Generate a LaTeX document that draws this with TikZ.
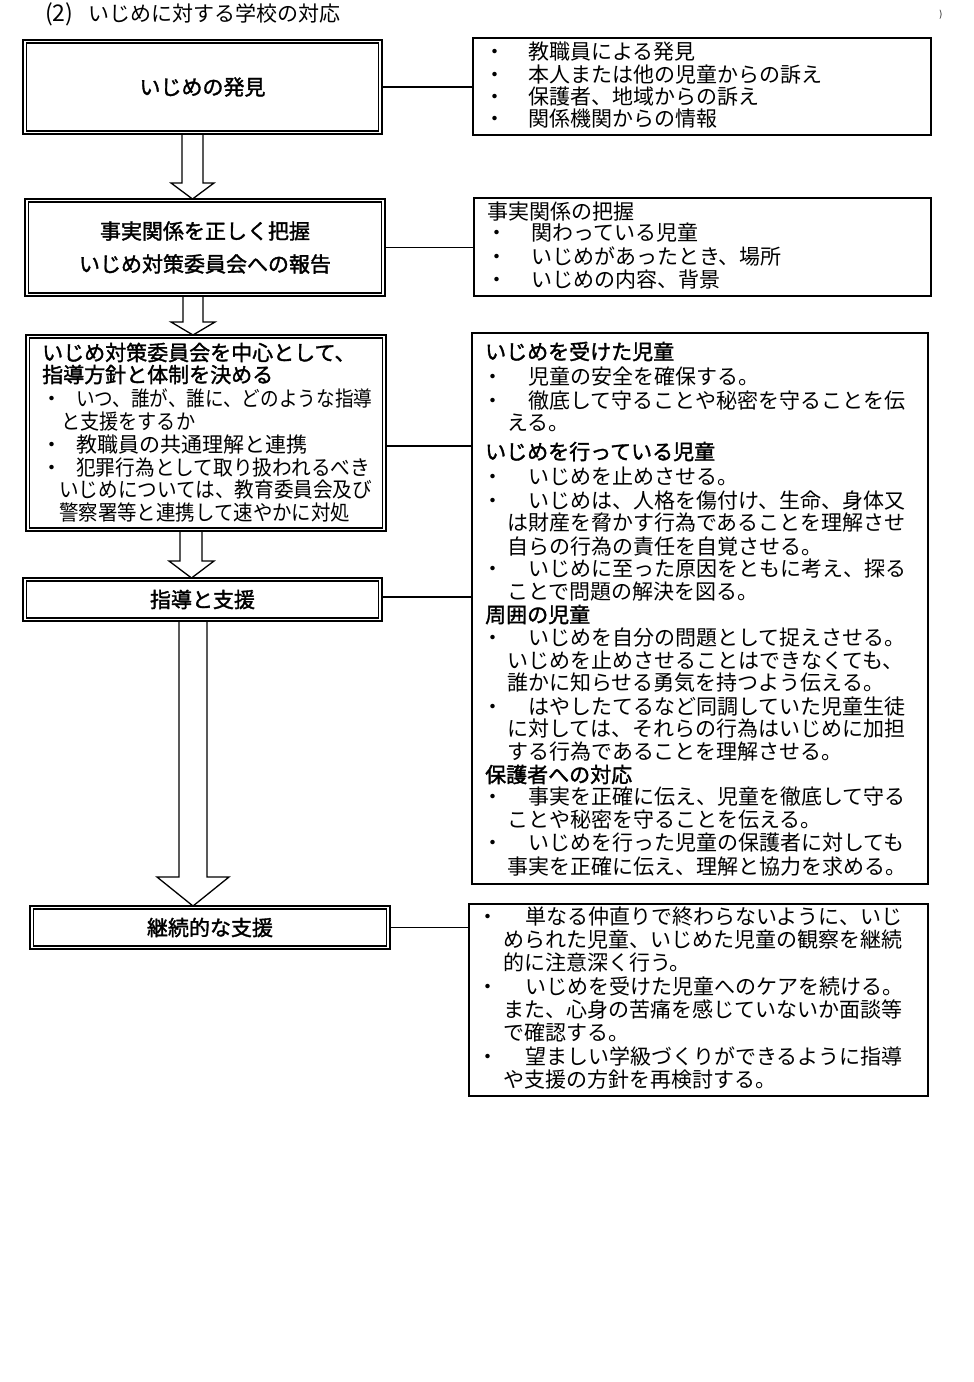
\documentclass[tikz,border=0pt]{standalone}
\usepackage{fontspec}
\setmainfont{Noto Sans CJK JP}
\newfontfamily\hfont{Noto Sans CJK JP}[FakeBold=1.6]
\usepackage{graphicx}
\usetikzlibrary{calc}
\pgfdeclarelayer{bg}
\pgfsetlayers{bg,main}
\newcommand\fs{\fontsize{21}{21}\selectfont}
\newcommand\Tln[4]{\node[txt] (#1) at (#2,{#3+7.5}) {#4};}
\newcommand\Tlb[4]{\node[txt,font=\fs\hfont] (#1) at (#2,{#3+7.5}) {#4};}
\newcommand\Tlw[5]{\node[txt] (#1) at (#2,{#3+7.5}) {\resizebox{#4pt}{\height}{#5}};}
\newcommand\Bli[5]{\node[txt,anchor=base] (#1b) at (#2,{#4+7.5}) {・};\node[txt] (#1) at (#3,{#4+7.5}) {#5};}
\newcommand\Bliw[6]{\node[txt,anchor=base] (#1b) at (#2,{#4+7.5}) {・};\node[txt] (#1) at (#3,{#4+7.5}) {\resizebox{#5pt}{\height}{#6}};}
\tikzset{
 txt/.style={anchor=base west, inner sep=0pt, font=\fs},
 dbox/.style={draw, line width=2pt, outer sep=0pt, inner sep=0pt, font=\fs\hfont, align=center},
 iline/.style={line width=1.2pt},
 rbox/.style={draw, line width=1.3pt, outer sep=0pt, inner sep=0pt},
 conn/.style={line width=1.2pt},
 blockarr/.style={draw, fill=white, line width=1.3pt, line join=miter},
}
\begin{document}
\begin{tikzpicture}[x=1pt,y=-1pt]
\useasboundingbox (0,0) rectangle (974,1382);

% title
\node[txt, font=\fontsize{23}{23}\selectfont] (t0) at (45,21.5) {(2)};
\Tln{t1}{88}{14}{いじめに対する学校の対応}
\node[inner sep=0pt, font=\fontsize{9}{9}\selectfont] (stray) at (941,15) {)};

% left double boxes
\node[dbox, minimum width=359, minimum height=94] (b1) at (202.5,87) {いじめの発見};
\draw[iline] ($(b1.north west)+(3.4,3)$) rectangle ($(b1.south east)+(-3.4,-3)$);

\node[dbox, minimum width=360, minimum height=97, font=\fontsize{21}{33}\selectfont\hfont] (b2) at (205,247.5) {事実関係を正しく把握\\いじめ対策委員会への報告};
\draw[iline] ($(b2.north west)+(3.4,3)$) rectangle ($(b2.south east)+(-3.4,-3)$);

\node[dbox, minimum width=360, minimum height=196] (b3) at (206,433) {};
\draw[iline] ($(b3.north west)+(3.4,3)$) rectangle ($(b3.south east)+(-3.4,-3)$);

\node[dbox, minimum width=359, minimum height=43] (b4) at (202.5,599.5) {指導と支援};
\draw[iline] ($(b4.north west)+(3.4,3)$) rectangle ($(b4.south east)+(-3.4,-3)$);

\node[dbox, minimum width=360, minimum height=43] (b5) at (210,927.5) {継続的な支援};
\draw[iline] ($(b5.north west)+(3.4,3)$) rectangle ($(b5.south east)+(-3.4,-3)$);

% box 3 text
\Tlb{l1}{42}{353}{いじめ対策委員会を中心として、}
\Tlb{l2}{42}{375}{指導方針と体制を決める}
\Bliw{l3}{52}{76}{399}{296}{いつ、誰が、誰に、どのような指導}
\Tlw{l4}{61}{422}{134}{と支援をするか}
\Bli{l5}{52}{76}{445}{教職員の共通理解と連携}
\Bliw{l6}{52}{76}{468}{294}{犯罪行為として取り扱われるべき}
\Tlw{l7}{59}{490}{313}{いじめについては、教育委員会及び}
\Tlw{l8}{59}{513}{291}{警察署等と連携して速やかに対処}

% right boxes
\node[rbox, minimum width=458, minimum height=97] (r1) at (702,86.5) {};
\node[rbox, minimum width=457, minimum height=98] (r2) at (702.5,247) {};
\node[rbox, minimum width=456, minimum height=551] (r3) at (700,608.5) {};
\node[rbox, minimum width=459, minimum height=192] (r4) at (698.5,1000) {};

% R1 text
\Bli{p1}{495}{528}{52}{教職員による発見}
\Bli{p2}{495}{528}{75}{本人または他の児童からの訴え}
\Bli{p3}{495}{528}{97}{保護者、地域からの訴え}
\Bli{p4}{495}{528}{119}{関係機関からの情報}

% R2 text
\Tln{q0}{487}{212}{事実関係の把握}
\Bli{q1}{497}{531}{233}{関わっている児童}
\Bli{q2}{497}{531}{257}{いじめがあったとき、場所}
\Bli{q3}{497}{531}{280}{いじめの内容、背景}

% R3 text
\Tlb{s1}{485}{352}{いじめを受けた児童}
\Bli{s2}{493}{528}{377}{児童の安全を確保する。}
\Bli{s3}{493}{528}{401}{徹底して守ることや秘密を守ることを伝}
\Tln{s4}{507}{423}{える。}
\Tlb{s5}{485}{452}{いじめを行っている児童}
\Bli{s6}{493}{528}{477}{いじめを止めさせる。}
\Bli{s7}{493}{528}{501}{いじめは、人格を傷付け、生命、身体又}
\Tln{s8}{507}{523}{は財産を脅かす行為であることを理解させ}
\Tln{s9}{507}{547}{自らの行為の責任を自覚させる。}
\Bli{s10}{493}{528}{569}{いじめに至った原因をともに考え、探る}
\Tln{s11}{507}{592}{ことで問題の解決を図る。}
\Tlb{s12}{485}{615}{周囲の児童}
\Bli{s13}{493}{528}{638}{いじめを自分の問題として捉えさせる。}
\Tln{s14}{507}{661}{いじめを止めさせることはできなくても、}
\Tln{s15}{507}{683}{誰かに知らせる勇気を持つよう伝える。}
\Bli{s16}{493}{528}{707}{はやしたてるなど同調していた児童生徒}
\Tln{s17}{507}{729}{に対しては、それらの行為はいじめに加担}
\Tln{s18}{507}{752}{する行為であることを理解させる。}
\Tlb{s19}{485}{775}{保護者への対応}
\Bli{s20}{493}{528}{797}{事実を正確に伝え、児童を徹底して守る}
\Tln{s21}{507}{820}{ことや秘密を守ることを伝える。}
\Bli{s22}{493}{528}{843}{いじめを行った児童の保護者に対しても}
\Tln{s23}{507}{867}{事実を正確に伝え、理解と協力を求める。}

% R4 text
\Bli{u1}{488}{525}{917}{単なる仲直りで終わらないように、いじ}
\Tln{u2}{503}{940}{められた児童、いじめた児童の観察を継続}
\Tln{u3}{503}{963}{的に注意深く行う。}
\Bli{u4}{488}{525}{987}{いじめを受けた児童へのケアを続ける。}
\Tln{u5}{503}{1010}{また、心身の苦痛を感じていないか面談等}
\Tln{u6}{503}{1033}{で確認する。}
\Bli{u7}{488}{525}{1057}{望ましい学級づくりができるように指導}
\Tln{u8}{503}{1080}{や支援の方針を再検討する。}

% connectors
\draw[conn] (b1.east) -- (b1.east -| r1.west);
\draw[conn] (b2.east) -- (b2.east -| r2.west);
\coordinate (c3) at ([yshift=-13pt]b3.east);
\draw[conn] (c3) -- (c3 -| r3.west);
\coordinate (c4) at ([yshift=2.5pt]b4.east);
\draw[conn] (c4) -- (c4 -| r3.west);
\draw[conn] (b5.east) -- (b5.east -| r4.west);

% background and block arrows
\begin{pgfonlayer}{bg}
\fill[white] (0,0) rectangle (974,1382);
\draw[blockarr] (182,0 |- b1.south) -- (182,183) -- (171,183) -- (192.5,0 |- b2.north) -- (214,183) -- (203,183) -- (203,0 |- b1.south);
\draw[blockarr] (183,0 |- b2.south) -- (183,322) -- (171,322) -- (193,0 |- b3.north) -- (215,322) -- (203,322) -- (203,0 |- b2.south);
\draw[blockarr] (180,0 |- b3.south) -- (180,561) -- (169,561) -- (191.5,0 |- b4.north) -- (214,561) -- (202,561) -- (202,0 |- b3.south);
\draw[blockarr] (179,0 |- b4.south) -- (179,877) -- (157,877) -- (193,0 |- b5.north) -- (229,877) -- (207,877) -- (207,0 |- b4.south);
\end{pgfonlayer}
\end{tikzpicture}
\end{document}
